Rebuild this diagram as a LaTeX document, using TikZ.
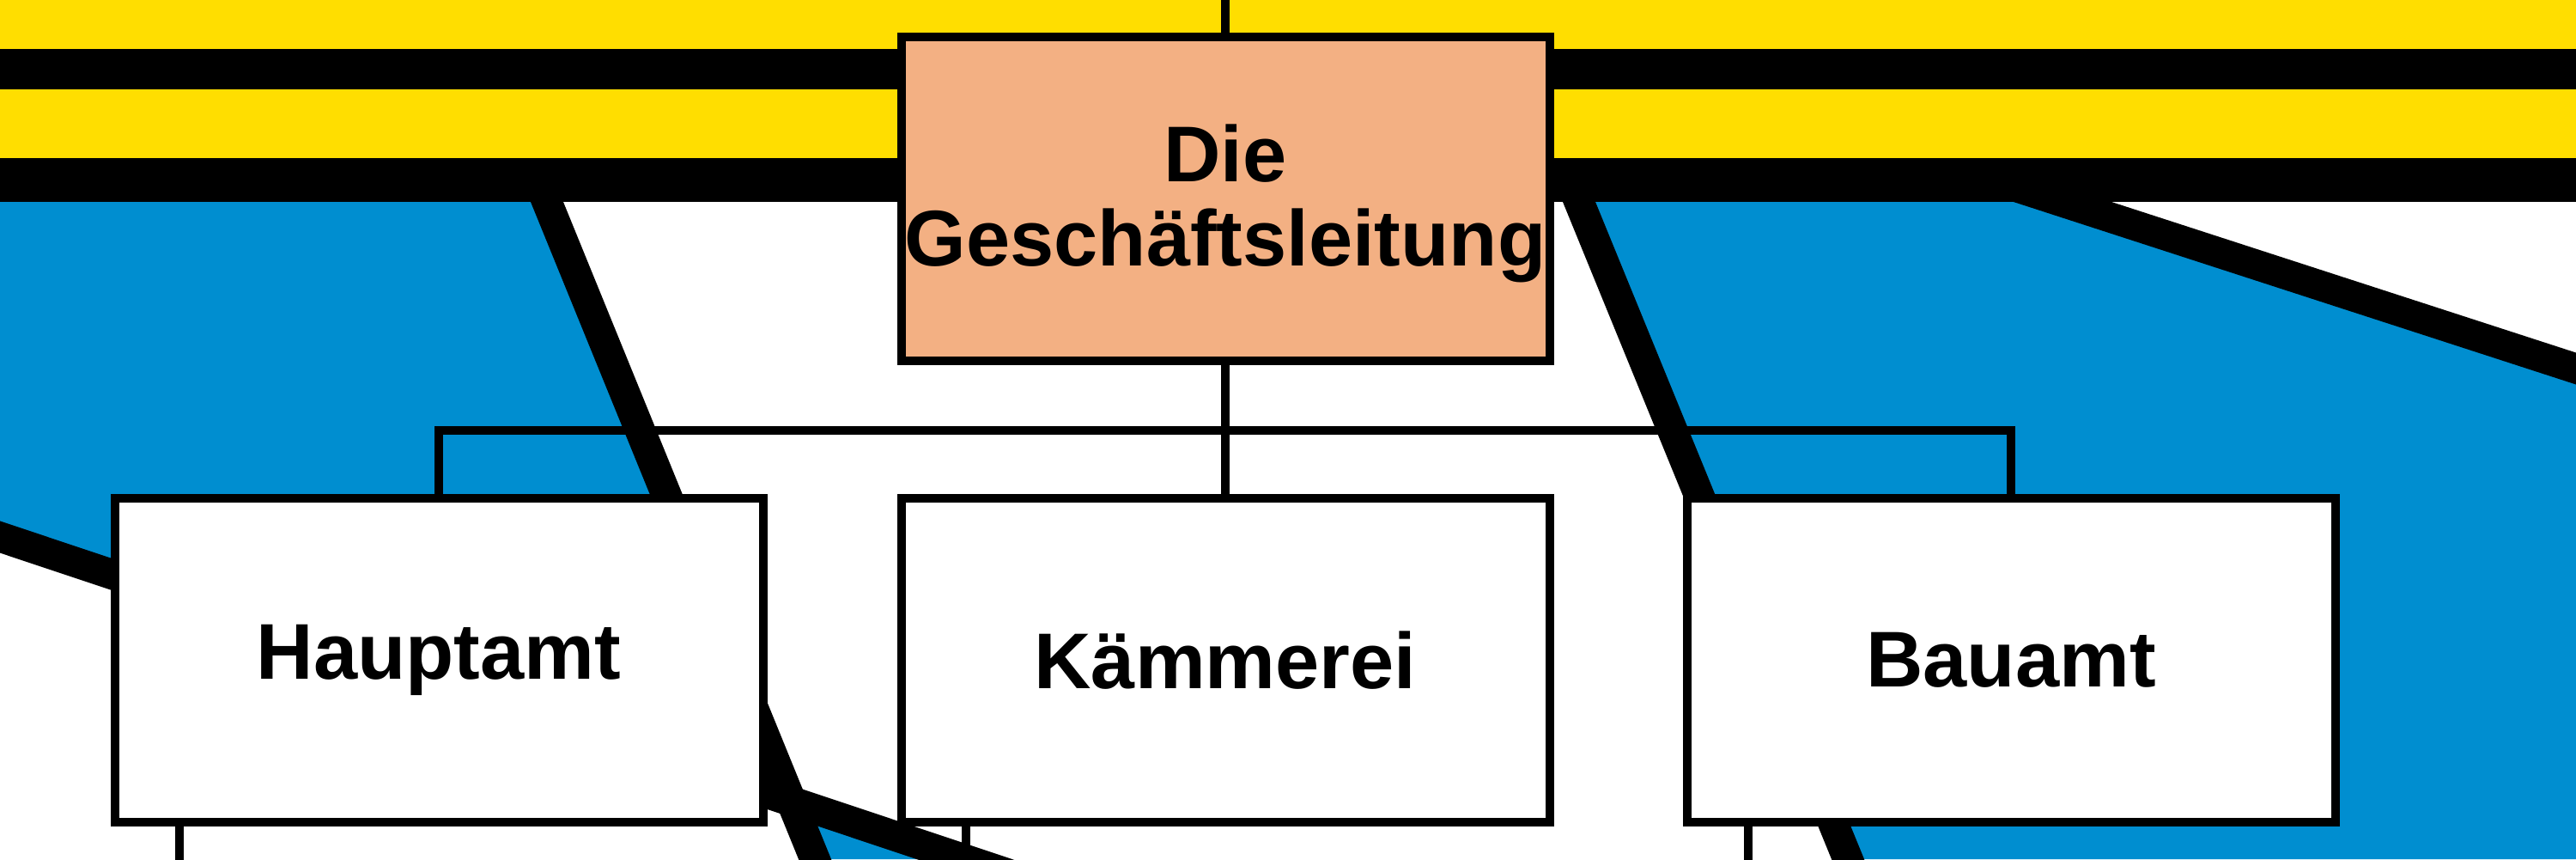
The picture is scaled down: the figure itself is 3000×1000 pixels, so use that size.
\documentclass[tikz,border=0pt]{standalone}
\usepackage{fontspec}
\setmainfont{Liberation Sans}
\usetikzlibrary{calc}
\definecolor{bandyellow}{HTML}{FFDE00}
\definecolor{fieldblue}{HTML}{008ED0}
\definecolor{headsalmon}{HTML}{F3B083}
\pgfdeclarelayer{ground}
\pgfdeclarelayer{wires}
\pgfsetlayers{ground,wires,main}
\begin{document}
\begin{tikzpicture}[x=0.25pt,y=-0.25pt,
  bigline/.style={line width=8.8pt,black},
  conn/.style={line width=2.4pt,black},
  orgbox/.style={draw=black,line width=2.5pt,minimum width=188.75pt,minimum height=94.25pt,
    inner sep=0pt,outer sep=0pt,font=\fontsize{23}{24.5}\selectfont\bfseries,align=center},
]
\useasboundingbox (0,0) rectangle (3000,1000);
\clip (0,0) rectangle (3000,1000);
% boxes
\node[orgbox,fill=headsalmon] (GL) at (1427,231.5)
  {\raisebox{-2.25pt}[\height][\depth]{\begin{tabular}{@{}c@{}}Die\\Geschäftsleitung\end{tabular}}};
\node[orgbox,fill=white] (HA) at (511,768.5) {Hauptamt};
\node[orgbox,fill=white] (KA) at (1427,768.5) {Kämmerei};
\node[orgbox,fill=white] (BA) at (2342,768.5) {Bauamt};
% diagonal line coordinates
\coordinate (L1a) at (637,235);
\coordinate (L1b) at (949,1000);
\coordinate (L2a) at (0,625);
\coordinate (L2b) at (1123,1000);
\coordinate (L3a) at (1839,235);
\coordinate (L3b) at (2152,1000);
\coordinate (L4a) at (2402,235);
\coordinate (L4b) at (3000,429);
\coordinate (X12) at (intersection of L1a--L1b and L2a--L2b);
\begin{pgfonlayer}{ground}
\fill[white] (0,0) rectangle (3000,1000);
% blue fields
\fill[fieldblue] (0,235) -- (L1a) -- (X12) -- (L2a) -- cycle;
\fill[fieldblue] (X12) -- (L1b) -- (L2b) -- cycle;
\fill[fieldblue] (L3a) -- (L4a) -- (L4b) -- (3000,1000) -- (L3b) -- cycle;
% black thick lines
\draw[bigline] ($(L1a)!-0.2!(L1b)$) -- ($(L1a)!1.2!(L1b)$);
\draw[bigline] ($(L2a)!-0.2!(L2b)$) -- ($(L2a)!1.2!(L2b)$);
\draw[bigline] ($(L3a)!-0.2!(L3b)$) -- ($(L3a)!1.2!(L3b)$);
\draw[bigline] ($(L4a)!-0.2!(L4b)$) -- ($(L4a)!1.2!(L4b)$);
% bands
\fill[bandyellow] (0,0) rectangle (3000,235);
\fill[black] (0,57) rectangle (3000,104);
\fill[black] (0,184) rectangle (3000,235);
\end{pgfonlayer}
% connectors
\coordinate (topend) at (0,-10);
\coordinate (bus) at (0,501);
\coordinate (HAfoot) at (209,1010);
\coordinate (KAfoot) at (1125,1010);
\coordinate (BAfoot) at (2036,1010);
\begin{pgfonlayer}{wires}
\draw[conn] (GL.north) -- (GL.north |- topend);
\draw[conn] (GL.south) -- (KA.north);
\draw[conn] (HA.north) |- (bus -| GL.south) -| (BA.north);
\draw[conn] (HA.south -| HAfoot) -- (HAfoot);
\draw[conn] (KA.south -| KAfoot) -- (KAfoot);
\draw[conn] (BA.south -| BAfoot) -- (BAfoot);
\end{pgfonlayer}
\end{tikzpicture}
\end{document}
